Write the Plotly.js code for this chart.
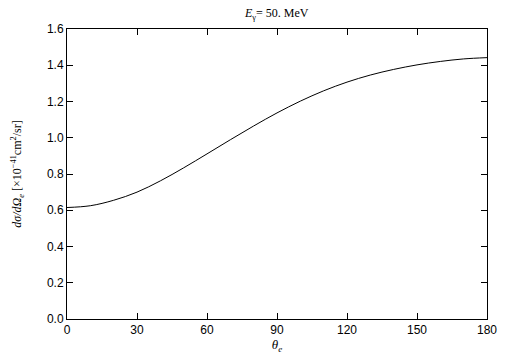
<!DOCTYPE html>
<html>
<head>
<meta charset="utf-8">
<script src="https://cdn.plot.ly/plotly-3.0.1.min.js"></script>
<style>body{margin:0;padding:0;background:#fff}#chart{width:505px;height:361px}</style>
</head>
<body>
<div id="chart"></div>
<script>
const theta = [0,10,20,30,40,50,60,70,80,90,100,110,120,130,140,150,160,170,180];
const crossSection = [0.615,0.625,0.655,0.700,0.762,0.834,0.911,0.989,1.065,1.137,1.202,1.259,1.307,1.346,1.377,1.402,1.421,1.435,1.442];
const xTicks = [0,30,60,90,120,150,180];
const yTicks = [0,0.2,0.4,0.6,0.8,1.0,1.2,1.4,1.6];

const trace = {
  x: theta, y: crossSection, type: 'scatter', mode: 'lines',
  line: {color: '#000', width: 1, shape: 'spline', smoothing: 1}, hoverinfo: 'skip'
};
const axisCommon = {
  showgrid: false, zeroline: false, showline: true, mirror: 'ticks',
  linecolor: '#000', linewidth: 1, ticks: 'inside', ticklen: 6, tickcolor: '#000',
  tickfont: {family: 'Liberation Sans, Arial, sans-serif', size: 12, color: '#000'}
};
const layout = {
  width: 505, height: 361,
  margin: {l: 67, r: 18, t: 29, b: 42},
  paper_bgcolor: '#fff', plot_bgcolor: '#fff',
  showlegend: false,
  title: {
    text: '<i>E</i><sub>γ</sub>= 50. MeV',
    font: {family: 'Liberation Serif, Times New Roman, serif', size: 12, color: '#000'},
    x: 0.548, xanchor: 'center', y: 0.975, yanchor: 'top'
  },
  xaxis: Object.assign({}, axisCommon, {
    range: [0, 180], tickvals: xTicks, ticktext: xTicks.map(String),
    title: {text: '<i>θ</i><sub><i>e</i></sub>', standoff: 2,
      font: {family: 'Liberation Serif, Times New Roman, serif', size: 13, color: '#000'}}
  }),
  yaxis: Object.assign({}, axisCommon, {
    range: [0, 1.6], tickvals: yTicks, ticktext: yTicks.map(v => v.toFixed(1)),
    title: {text: '<i>dσ/dΩ<sub>e</sub></i> [×10<sup>−41</sup>cm<sup>2</sup>/sr]', standoff: 22,
      font: {family: 'Liberation Serif, Times New Roman, serif', size: 12, color: '#000'}}
  })
};
Plotly.newPlot('chart', [trace], layout, {displayModeBar: false, staticPlot: true});
</script>
</body>
</html>
